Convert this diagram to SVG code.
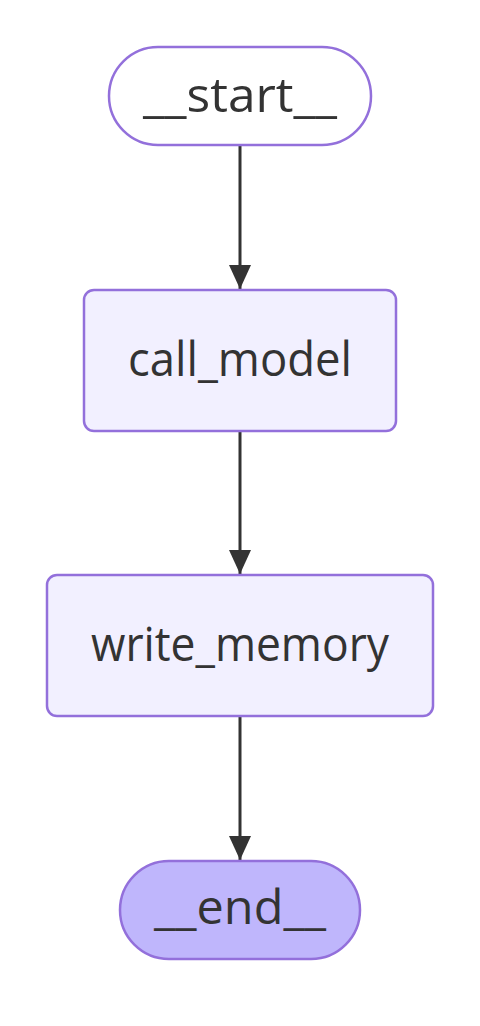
<svg xmlns="http://www.w3.org/2000/svg" width="480" height="1026" viewBox="0 0 480 1026">
<defs>
<style>
.node rect{stroke:#9370DB;stroke-width:2.5}
.default rect{fill:#f2f0ff}
.lbl{font-family:"Open Sans","DejaVu Sans",sans-serif;font-size:47px;fill:#333;text-anchor:middle}
.edge{stroke:#333;stroke-width:3;fill:none}
</style>
<marker id="arr" viewBox="0 0 24 22" refX="24" refY="11" markerWidth="24" markerHeight="22" markerUnits="userSpaceOnUse" orient="auto">
<path d="M0,0 L24,11 L0,22 Z" fill="#333"/>
</marker>
</defs>
<rect width="480" height="1026" fill="#fff"/>
<g id="connectors">
<line class="edge" x1="240" y1="146" x2="240" y2="289" marker-end="url(#arr)"/>
<line class="edge" x1="240" y1="431" x2="240" y2="574" marker-end="url(#arr)"/>
<line class="edge" x1="240" y1="717" x2="240" y2="860" marker-end="url(#arr)"/>
</g>
<g id="start" class="node">
<rect x="109" y="47" width="262" height="98" rx="49" ry="49" fill="#fff"/>
<text class="lbl" x="240" y="112" textLength="194" lengthAdjust="spacingAndGlyphs">__start__</text>
</g>
<g id="call_model" class="node default">
<rect x="84" y="290" width="312" height="141" rx="10" ry="10"/>
<text class="lbl" x="240" y="376" textLength="224" lengthAdjust="spacingAndGlyphs">call_model</text>
</g>
<g id="write_memory" class="node default">
<rect x="47" y="575" width="386" height="141" rx="10" ry="10"/>
<text class="lbl" x="240" y="661" textLength="298" lengthAdjust="spacingAndGlyphs">write_memory</text>
</g>
<g id="end" class="node">
<rect x="120" y="861" width="240" height="98" rx="49" ry="49" fill="#bfb6fc"/>
<text class="lbl" x="240" y="924" textLength="172" lengthAdjust="spacingAndGlyphs">__end__</text>
</g>
</svg>
